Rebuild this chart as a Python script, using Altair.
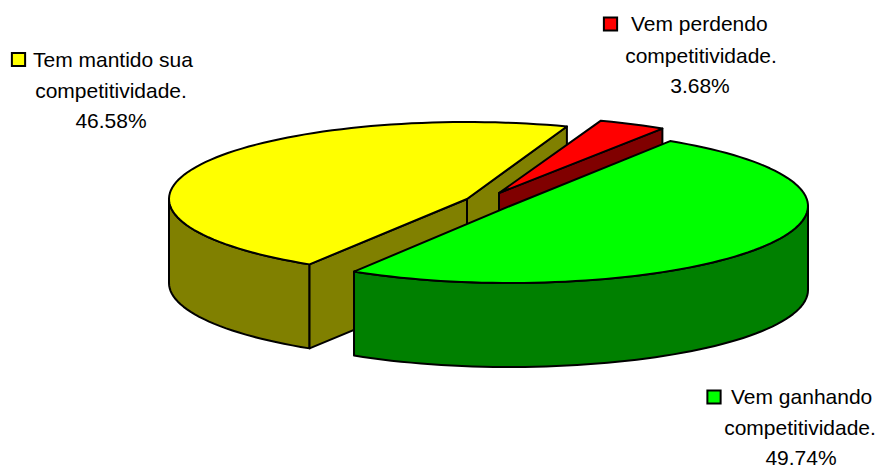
import math
import altair as alt
import pandas as pd

# --- values ---
shares = [49.74, 46.58, 3.68]
top_colors = ["#00ff00", "#ffff00", "#ff0000"]
side_colors = ["#008000", "#808000", "#800000"]
label_first = ["Vem ganhando", "Tem mantido sua", "Vem perdendo"]
label_second = ["competitividade."] * 3
label_third = ["49.74%", "46.58%", "3.68%"]

# --- pie geometry, in picture pixels ---
W, H = 868, 460
RX, RY, DEPTH = 298, 77, 84
STARTS = [32.5, 211.9, 20.0]
CENTRE_X = [510, 467, 499]
CENTRE_Y = [206, 199, 193]
SQUARE_X = [714, 18.5, 610.5]
SQUARE_Y = [397, 59.5, 24]
LINE1_X = [731, 33, 631]
LINE1_Y = [404, 67, 31]
LINE2_X = [800, 111, 701]
LINE2_Y = [435, 98, 63]
LINE3_X = [801, 111, 700]
LINE3_Y = [465, 128, 93]

xs = alt.Scale(domain=[8, 8 + W], range=[0, W])
ys = alt.Scale(domain=[8, 8 + H], range=[0, H])


def rim(i, a, b, drop=0):
    steps = max(2, int(abs(b - a) / 2))
    out = []
    for k in range(steps + 1):
        t = math.radians(a + (b - a) * k / steps)
        out.append((CENTRE_X[i] + RX * math.sin(t), CENTRE_Y[i] - RY * math.cos(t) + drop))
    return out


def poly(points, colour):
    df = pd.DataFrame({"px": [p[0] for p in points], "py": [p[1] for p in points],
                       "i": list(range(len(points)))})
    return alt.Chart(df).mark_line(
        fill=colour, stroke="black", strokeWidth=2, interpolate="linear-closed",
        strokeJoin="round", clip=False,
    ).encode(
        x=alt.X("px:Q", scale=xs, axis=None),
        y=alt.Y("py:Q", scale=ys, axis=None),
        order="i:Q",
    )


# slice angular spans, clockwise from the top
spans = [(st, st + s * 3.6) for st, s in zip(STARTS, shares)]

layers = []
apex = lambda i, d=0: (CENTRE_X[i], CENTRE_Y[i] + d)


def wall(i, ang, colour):
    p = rim(i, ang, ang)[0]
    return poly([apex(i), p, (p[0], p[1] + DEPTH), apex(i, DEPTH)], colour)


def outer(i, a0, b0, colour):
    return poly(rim(i, a0, b0) + rim(i, b0, a0, DEPTH), colour)


# yellow slice
a0, b0 = spans[1]
layers += [outer(1, a0, 270, side_colors[1]), wall(1, b0, side_colors[1]), wall(1, a0, side_colors[1])]
layers.append(poly([apex(1)] + rim(1, a0, b0), top_colors[1]))
# red slice
a0, b0 = spans[2]
layers += [wall(2, b0, side_colors[2])]
layers.append(poly([apex(2)] + rim(2, a0, b0), top_colors[2]))
# green slice
a0, b0 = spans[0]
layers += [outer(0, 90, b0, side_colors[0])]
layers.append(poly([apex(0)] + rim(0, a0, b0), top_colors[0]))

legend_df = pd.DataFrame({"px": SQUARE_X, "py": SQUARE_Y, "c": top_colors})
layers.append(alt.Chart(legend_df).mark_square(size=175, stroke="black", strokeWidth=2, opacity=1).encode(
    x=alt.X("px:Q", scale=xs, axis=None), y=alt.Y("py:Q", scale=ys, axis=None),
    fill=alt.Fill("c:N", scale=None)))


def text(xv, yv, tv, align):
    df = pd.DataFrame({"px": xv, "py": yv, "t": tv})
    return alt.Chart(df).mark_text(
        font="Liberation Sans", fontSize=21, align=align, baseline="alphabetic", color="black"
    ).encode(x=alt.X("px:Q", scale=xs, axis=None), y=alt.Y("py:Q", scale=ys, axis=None), text="t:N")


layers.append(text(LINE1_X, LINE1_Y, label_first, "left"))
layers.append(text(LINE2_X, LINE2_Y, label_second, "center"))
layers.append(text(LINE3_X, LINE3_Y, label_third, "center"))

chart = alt.layer(*layers).properties(
    width=W, height=H, padding=0, autosize=alt.AutoSizeParams(type="none"),
    background="white",
).configure_view(stroke=None)

chart.save("out.html", embed_options={"renderer": "svg", "actions": False})
